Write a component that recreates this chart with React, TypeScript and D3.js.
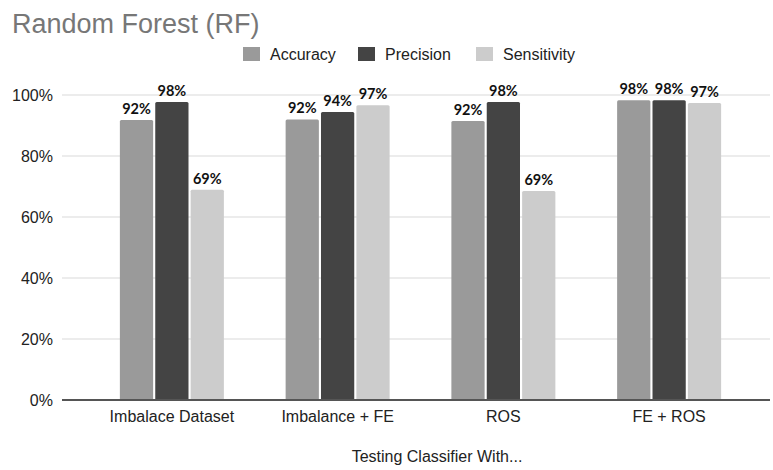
import React from "react";
import * as d3 from "d3";

const categories = ["Imbalace Dataset", "Imbalance + FE", "ROS", "FE + ROS"];
const seriesNames = ["Accuracy", "Precision", "Sensitivity"];
const accuracy = [91.8, 92.0, 91.5, 98.3];
const precision = [97.7, 94.4, 97.7, 98.3];
const sensitivity = [68.9, 96.6, 68.5, 97.4];
const yTicks = [0, 20, 40, 60, 80, 100];
const colors = ["#9a9a9a", "#444444", "#cccccc"];

const W = 773;
const H = 470;

export default function App() {
  const series = [accuracy, precision, sensitivity];
  const x = d3.scaleBand<string>().domain(categories).range([89, 752]).paddingInner(0).paddingOuter(0);
  const y = d3.scaleLinear().domain([0, 100]).range([400, 95]);
  const inner = d3.scaleBand<string>().domain(seriesNames).range([-52, 52]).paddingInner(0.06);
  const font = "'Liberation Sans', Arial, sans-serif";
  const legendX = [243, 358, 476];

  return (
    <svg width={W} height={H} style={{ position: "absolute", left: 0, top: 0, background: "#fff" }}>
      <text x={12} y={33} fontFamily={font} fontSize={27} fill="#777">Random Forest (RF)</text>
      {seriesNames.map((s, i) => {
        const lx = legendX[i];
        return (
          <g key={s}>
            <rect x={lx} y={47} width={17} height={14} fill={colors[i]} />
            <text x={lx + 27} y={60} fontFamily={font} fontSize={16} fill="#222">{s}</text>
          </g>
        );
      })}
      {yTicks.map((t) => (
        <g key={t}>
          {t > 0 && <line x1={62} x2={770} y1={y(t)} y2={y(t)} stroke="#d9d9d9" strokeWidth={1} />}
          <text x={53} y={y(t) + 6} textAnchor="end" fontFamily={font} fontSize={16} fill="#222">{t}%</text>
        </g>
      ))}
      {categories.map((c, ci) => (
        <g key={c}>
          {series.map((vals, si) => {
            const bx = (x(c) as number) + x.bandwidth() / 2 + (inner(seriesNames[si]) as number);
            const bw = inner.bandwidth();
            return (
              <g key={si}>
                <rect x={bx} y={y(vals[ci])} width={bw} height={y(0) - y(vals[ci])} fill={colors[si]} rx={1.5} />
                <text x={bx + bw / 2} y={y(vals[ci]) - 6} textAnchor="middle" fontFamily="Lato, 'Open Sans', sans-serif" fontWeight={700} fontSize={14.5} fill="#111">
                  {Math.round(vals[ci])}%
                </text>
              </g>
            );
          })}
          <text x={(x(c) as number) + x.bandwidth() / 2} y={422} textAnchor="middle" fontFamily={font} fontSize={16} fill="#222">{c}</text>
        </g>
      ))}
      <line x1={62} x2={770} y1={y(0)} y2={y(0)} stroke="#555" strokeWidth={2} />
      <text x={437} y={462} textAnchor="middle" fontFamily={font} fontSize={16} fill="#222">Testing Classifier With...</text>
    </svg>
  );
}
